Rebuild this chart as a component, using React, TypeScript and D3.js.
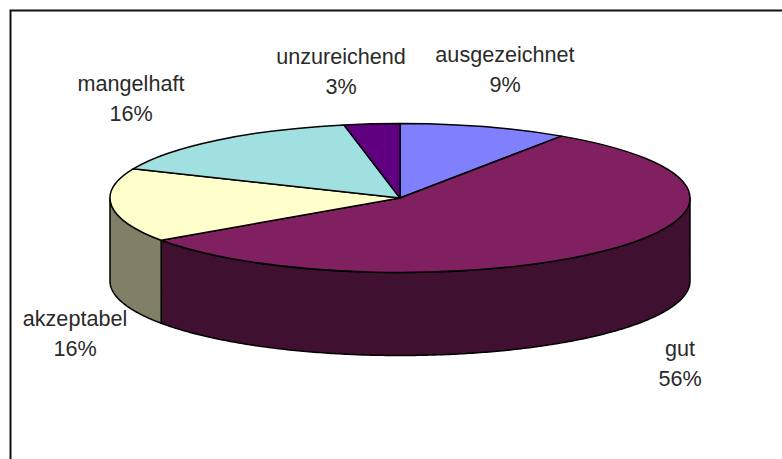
import React from "react";
import * as d3 from "d3";

// slice sizes, labels print them rounded
const categories = ["ausgezeichnet", "gut", "akzeptabel", "mangelhaft", "unzureichend"];
const values = [9.4, 56, 16, 15.5, 3.1];

const topColors = ["#8080ff", "#802060", "#ffffcc", "#a0e0e0", "#600080"];
const sideColors = ["#404080", "#401030", "#808066", "#507070", "#300040"];

// label anchors: x centre, baseline of first row
const labelAnchors: [number, number][] = [
  [505, 62],
  [680, 356],
  [75, 326],
  [131, 91],
  [341, 64],
];

const width = 782;
const height = 459;
const cx = 400;
const cy = 198;
const rx = 290;
const ry = 74.5;
const depth = 83;

const pie = d3.pie<number>().sort(null).value((d) => d);
const arcs = pie(values);

const arc = d3.arc<d3.PieArcDatum<number>>().innerRadius(0).outerRadius(rx);

// project an angle (0 = 12 o'clock, clockwise) on the flattened ellipse
const xAt = (a: number) => cx + rx * Math.sin(a);
const yAt = (a: number) => cy - ry * Math.cos(a);

const line = d3
  .line<[number, number]>()
  .x((d) => d[0])
  .y((d) => d[1])
  .curve(d3.curveLinear);

// wall of a slice, only the part on the front half of the pie
function sidePath(d: d3.PieArcDatum<number>) {
  const from = Math.max(d.startAngle, Math.PI / 2);
  const to = Math.min(d.endAngle, (3 * Math.PI) / 2);
  if (to <= from) return null;
  const angles = d3.range(from, to, 0.01).concat(to);
  const top = angles.map((a) => [xAt(a), yAt(a)] as [number, number]);
  const bottom = angles
    .slice()
    .reverse()
    .map((a) => [xAt(a), yAt(a) + depth] as [number, number]);
  return line(top.concat(bottom)) + "Z";
}

export default function App() {
  return (
    <svg
      width={width}
      height={height}
      style={{ position: "absolute", left: 0, top: 0, background: "#fff" }}
      fontFamily="'Liberation Sans', Arial, sans-serif"
    >
      <path d={`M${width},10.5H10.5V${height}`} fill="none" stroke="#111" strokeWidth={2} />

      <g>
        {arcs.map((d, i) => {
          const p = sidePath(d);
          return p ? (
            <path key={i} d={p} fill={sideColors[i]} stroke="#000" strokeWidth={1.5} strokeLinejoin="round" />
          ) : null;
        })}
      </g>

      <g transform={`translate(${cx},${cy}) scale(1,${ry / rx})`}>
        {arcs.map((d, i) => (
          <path
            key={i}
            d={arc(d) ?? ""}
            fill={topColors[i]}
            stroke="#000"
            strokeWidth={1.5}
            strokeLinejoin="round"
            style={{ vectorEffect: "non-scaling-stroke" }}
          />
        ))}
      </g>

      <g fontSize={21.6} fill="#2a2a2a" textAnchor="middle">
        {categories.map((c, i) => (
          <text key={c} x={labelAnchors[i][0]} y={labelAnchors[i][1]}>
            <tspan x={labelAnchors[i][0]}>{c}</tspan>
            <tspan x={labelAnchors[i][0]} dy={30}>{Math.round(values[i])}%</tspan>
          </text>
        ))}
      </g>
    </svg>
  );
}
